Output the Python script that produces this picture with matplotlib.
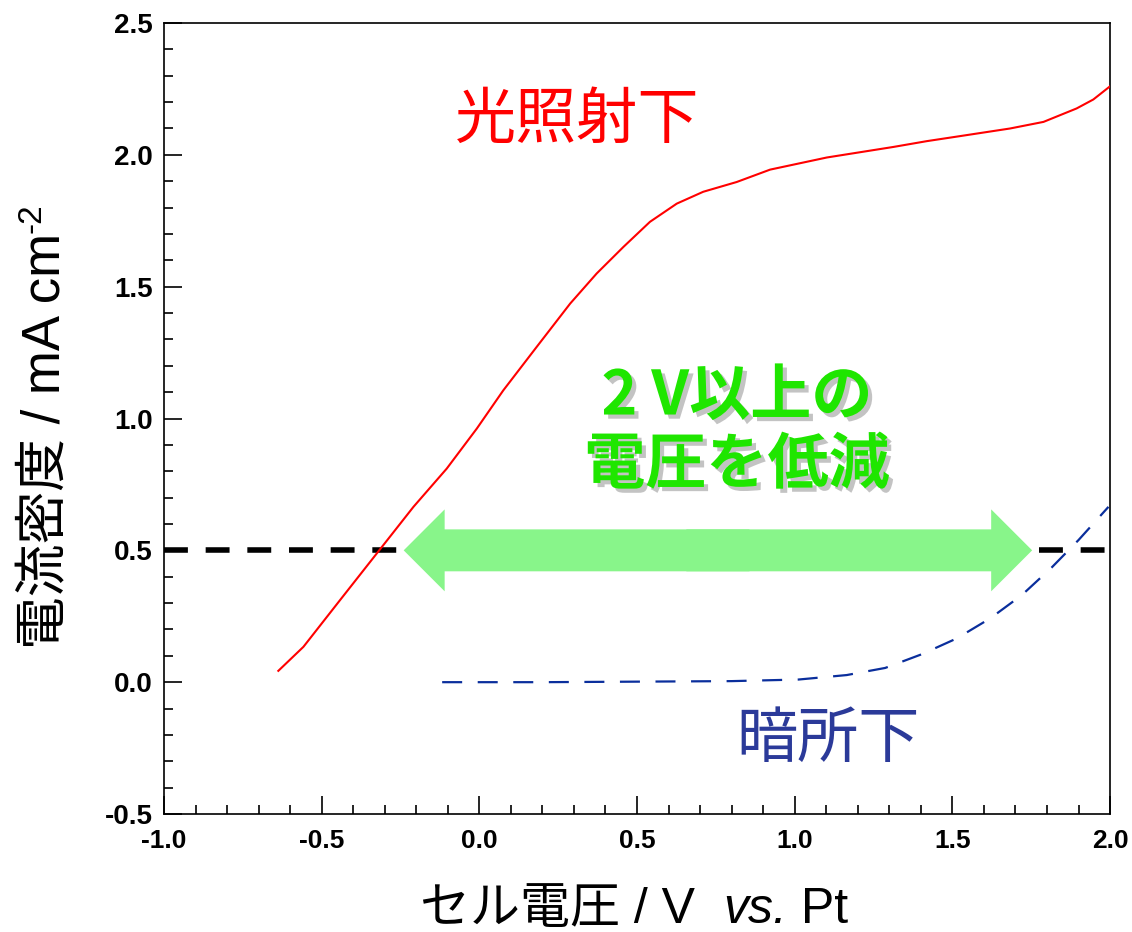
import matplotlib
matplotlib.use("Agg")
import matplotlib.pyplot as plt
import matplotlib.patheffects as pe
from matplotlib.ticker import MultipleLocator
from matplotlib.offsetbox import TextArea, HPacker, AnnotationBbox

# Light (illuminated) curve
light_v = [-0.6375, -0.558, -0.442, -0.3255, -0.209, -0.1035, -0.008, 0.076, 0.182, 0.288, 0.372,
           0.457, 0.541, 0.626, 0.710, 0.816, 0.922, 1.102, 1.313, 1.419, 1.524, 1.683, 1.789,
           1.894, 1.947, 2.0]
light_j = [0.043, 0.134, 0.311, 0.488, 0.665, 0.81, 0.962, 1.107, 1.272, 1.436, 1.55,
           1.651, 1.746, 1.815, 1.86, 1.897, 1.944, 1.99, 2.03, 2.052, 2.071, 2.10, 2.125,
           2.176, 2.21, 2.26]
# Dark curve
dark_v = [-0.118, 0.2, 0.5, 0.8, 1.012, 1.165, 1.287, 1.403, 1.514, 1.620, 1.720, 1.815, 1.900, 1.995]
dark_j = [0.0, 0.0, 0.002, 0.004, 0.010, 0.027, 0.054, 0.106, 0.166, 0.242, 0.33, 0.435, 0.539, 0.665]

ref_j = 0.5
arrow_start, arrow_end = -0.24, 1.753

x_ticks = [-1.0, -0.5, 0.0, 0.5, 1.0, 1.5, 2.0]
y_ticks = [-0.5, 0.0, 0.5, 1.0, 1.5, 2.0, 2.5]

jp = ['Liberation Sans', 'Noto Sans CJK JP', 'DejaVu Sans']
cjk_first = ['Noto Sans CJK JP', 'DejaVu Sans']

fig = plt.figure(figsize=(11.32, 9.32), dpi=100)
ax = fig.add_axes([0.1449, 0.1266, 0.8357, 0.8487])

ax.axhline(ref_j, color='black', lw=4.0, dashes=(4.3, 3.2), zorder=2)
ax.plot(light_v, light_j, color='#ff0000', lw=1.5, zorder=3)
ax.plot(dark_v, dark_j, color='#0a2e9c', lw=1.6, dashes=(9, 7), zorder=3)

mid = (arrow_start + arrow_end) / 2
for end, start in ((arrow_start, mid + 0.1), (arrow_end, mid - 0.1)):
    ax.annotate('', xy=(end, ref_j), xytext=(start, ref_j),
                arrowprops=dict(arrowstyle='simple,head_length=29.5,head_width=59,tail_width=30.2',
                                mutation_scale=1, color='#88f58a', shrinkA=0, shrinkB=0,
                                lw=0), zorder=5)

ax.set_xlim(-1.0, 2.0)
ax.set_ylim(-0.5, 2.5)
ax.set_xticks(x_ticks)
ax.set_yticks(y_ticks)
ax.set_xticklabels([f'{v:.1f}' for v in x_ticks])
ax.set_yticklabels([f'{v:.1f}' for v in y_ticks])
ax.xaxis.set_minor_locator(MultipleLocator(0.1))
ax.yaxis.set_minor_locator(MultipleLocator(0.1))
ax.tick_params(which='both', direction='in', top=False, right=False, width=1.2)
ax.tick_params(which='major', length=13)
ax.tick_params(which='minor', length=6.5)
ax.tick_params(axis='y', which='major', pad=8)
ax.tick_params(axis='x', which='major', pad=11)
for lab in ax.get_yticklabels():
    lab.set_fontfamily(['Liberation Sans', 'DejaVu Sans'])
    lab.set_fontweight('bold')
    lab.set_fontsize(20)
for lab in ax.get_xticklabels():
    lab.set_fontfamily(['Liberation Sans', 'DejaVu Sans'])
    lab.set_fontweight('bold')
    lab.set_fontsize(19)
for s in ax.spines.values():
    s.set_linewidth(1.2)

# y label with superscript
ylab = ax.set_ylabel('電流密度 / mA cm', fontsize=38, family=jp)
ax.yaxis.set_label_coords(-0.0983, 0.4716)
ax.annotate('-2', xy=(0.0, 1.0), xycoords=ylab, xytext=(-3, 0), textcoords='offset points',
            rotation=90, fontsize=24, family=jp, ha='left', va='bottom', annotation_clip=False)

# x label with italic "vs."
xl_size = 36
parts = [TextArea('セル電圧 / V  ', textprops=dict(fontsize=xl_size, family=jp)),
         TextArea('vs.', textprops=dict(fontsize=xl_size, family=jp, style='italic')),
         TextArea(' Pt', textprops=dict(fontsize=xl_size, family=jp))]
pack = HPacker(children=parts, align='baseline', pad=0, sep=0)
ab = AnnotationBbox(pack, (0.497, -0.121), xycoords='axes fraction', box_alignment=(0.5, 0.5),
                    frameon=False, annotation_clip=False)
ax.add_artist(ab)

ax.text(0.31, 2.13, '光照射下', color='#ff0000', fontsize=44, family=cjk_first, ha='center', va='center')
ax.text(1.106, -0.22, '暗所下', color='#2b3a99', fontsize=44, family=cjk_first, ha='center', va='center')
ax.text(0.817, 0.952, '2 V以上の\n電圧を低減', color='#1fe600', fontsize=44, family=cjk_first,
        fontweight='bold', ha='center', va='center', linespacing=1.15, zorder=6,
        path_effects=[pe.SimplePatchShadow(offset=(3, -3), shadow_rgbFace='#888888', alpha=0.5),
                      pe.Normal()])

fig.savefig('out.png', dpi=100)
